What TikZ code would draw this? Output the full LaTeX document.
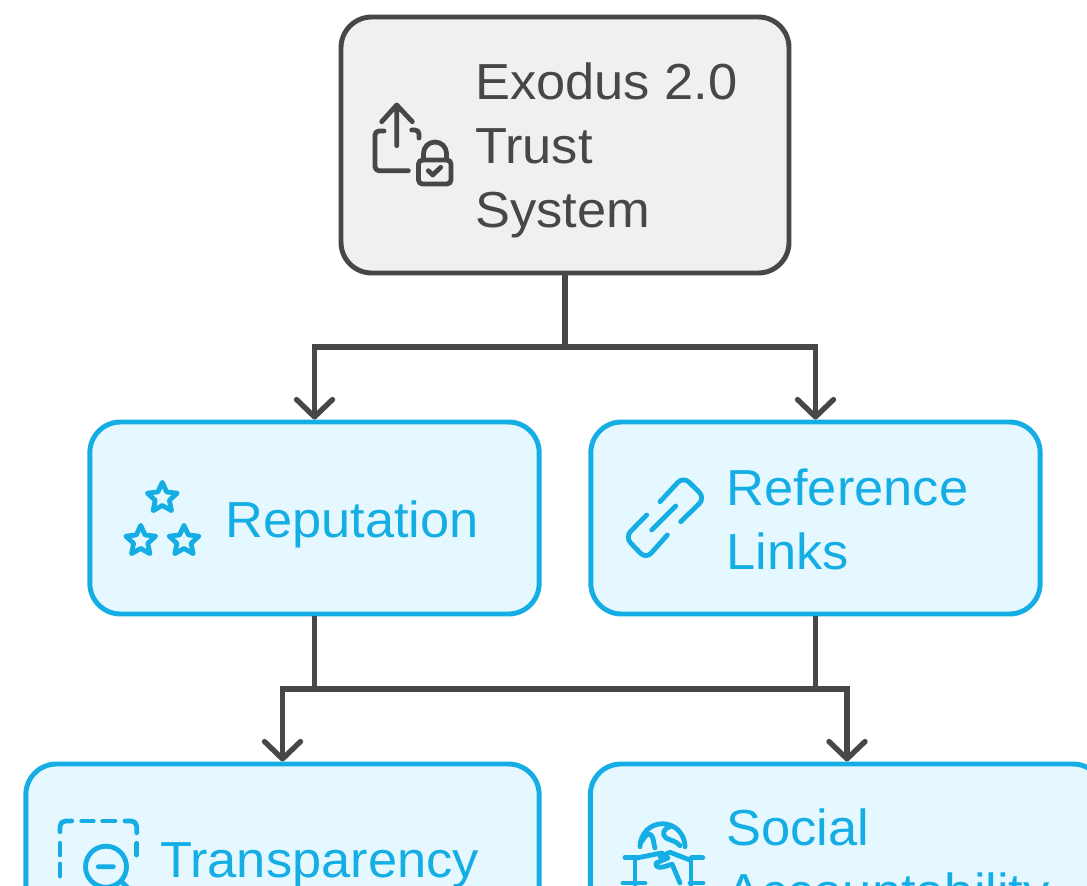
\documentclass[tikz,border=0pt]{standalone}
\usepackage{fontspec}
\setmainfont[FakeStretch=1.035]{Liberation Sans}
\usetikzlibrary{arrows.meta,shapes.geometric}
\definecolor{inkgrey}{HTML}{474747}
\definecolor{paneblue}{HTML}{E5F8FF}
\definecolor{panegrey}{HTML}{F0F0F0}
\definecolor{skyblue}{HTML}{14AEE5}
\tikzset{
  greybox/.style={draw=inkgrey,fill=panegrey,line width=3.7pt,rounded corners=23pt,inner sep=0pt},
  bluebox/.style={draw=skyblue,fill=paneblue,line width=3.7pt,rounded corners=23pt,inner sep=0pt},
  flow/.style={draw=inkgrey,line width=4pt},
  flowtip/.style={flow,-{Straight Barb[length=13pt,width=27pt,round]}},
  greytext/.style={text=inkgrey,font=\fontsize{38}{48}\selectfont,anchor=west,align=left,inner sep=0pt},
  bluetext/.style={greytext,text=skyblue},
  greyicon/.style={draw=inkgrey,line width=3.6pt,line cap=round,line join=round},
  blueicon/.style={draw=skyblue,line width=3.6pt,line cap=round,line join=round},
  staricon/.style={blueicon,star,star points=5,star point ratio=2.1,minimum size=23.5pt,inner sep=0pt}
}
\begin{document}
\begin{tikzpicture}[x=0.75pt,y=-0.75pt]
  \useasboundingbox (0,0) rectangle (1087,885);
  \clip (0,0) rectangle (1087,885);
  \fill[white] (0,0) rectangle (1087,885);

  % boxes
  \node[greybox,minimum width=336pt,minimum height=192pt] (trust) at (565,145) {};
  \node[bluebox,minimum width=337pt,minimum height=144pt] (reputation) at (314.5,518) {};
  \node[bluebox,minimum width=337pt,minimum height=144pt] (reference) at (815.5,518) {};
  \node[bluebox,minimum width=385pt,minimum height=144pt] (transparency) at (282.5,860) {};
  \node[bluebox,minimum width=385pt,minimum height=144pt] (social) at (847,860) {};

  % labels
  \node[greytext] (trustlabel) at (475,150) {Exodus 2.0\\Trust\\System};
  \node[bluetext] (reputationlabel) at (225,524) {Reputation};
  \node[bluetext] (referencelabel) at (726,519) {Reference\\Links};
  \node[bluetext] (transparencylabel) at (160,865) {Transparency};
  \node[bluetext] (sociallabel) at (726,864) {Social\\Accountability};

  % connectors
  \coordinate (upperbus) at (565,347);
  \coordinate (lowerbus) at (565,689);
  \draw[flow] (trust.south) -- (upperbus);
  \draw[flowtip] (upperbus) -| (reputation.north);
  \draw[flowtip] (upperbus) -| (reference.north);
  \draw[flow] (reputation.south) -- (reputation.south |- lowerbus);
  \draw[flow] (reference.south) -- (reference.south |- lowerbus);
  \draw[flowtip] (lowerbus) -| (transparency.north);
  \draw[flowtip] (lowerbus) -| (social.north);

  % upload and lock
  \draw[greyicon] (381.7,121.7) -- (396.7,105) -- (412.3,121.7) (396.7,105) -- (396.7,145.7);
  \draw[greyicon,rounded corners=3pt] (384,131) -- (375,131) -- (375,170.7) -- (408.3,170.7);
  \draw[greyicon,rounded corners=3pt] (411.7,130) -- (419,130) -- (419,138);
  \draw[greyicon,rounded corners=3pt] (418.5,160) rectangle (451,184);
  \draw[greyicon] (423.5,160) -- (423.5,153.5) arc(180:360:11.5) -- (446.5,160);
  \draw[greyicon] (428.3,170.7) -- (432.7,175) -- (440.7,167.3);

  % stars
  \node[staricon] (topstar) at (162.3,498) {};
  \node[staricon] (leftstar) at (140.7,541) {};
  \node[staricon] (rightstar) at (184,541) {};

  % chain link
  \draw[blueicon,rounded corners=6pt] (660,501.7) -- (683.3,476.5) -- (705,498) -- (680.7,521.7);
  \draw[blueicon,rounded corners=6pt] (646.7,515) -- (625,537) -- (646,559) -- (667.3,535);
  \draw[blueicon] (675.7,506) -- (651.7,530);

  % dashed frame and lens
  \draw[blueicon,rounded corners=4pt] (60,831.7) -- (60,821) -- (71.7,821);
  \draw[blueicon] (81.7,821) -- (93.3,821) (102.7,821) -- (115,821);
  \draw[blueicon,rounded corners=4pt] (125,821) -- (136.7,821) -- (136.7,832.7);
  \draw[blueicon] (136.7,843.3) -- (136.7,855) (60,843.3) -- (60,855) (60,864) -- (60,876);
  \draw[blueicon] (106,866.7) circle[radius=20.5] (98.3,866.7) -- (113.3,866.7) (121,881) -- (135,895);

  % globe and handshake
  \draw[blueicon] (640,846.7) arc(180:360:22.5 and 23);
  \draw[blueicon] (641.7,841.7) .. controls (645,836) and (648,832) .. (651,835) .. controls (654,838) and (653,842) .. (655,848);
  \draw[blueicon] (670,826.7) .. controls (664,828) and (661,834) .. (666,838) .. controls (672,841) and (676,841) .. (680,845.7);
  \draw[blueicon] (625,857.7) -- (636.7,857.7) (691.7,857.7) -- (702.7,857.7);
  \draw[blueicon] (636.7,858) -- (655,854.3) -- (662,853);
  \draw[blueicon] (660,856.7) -- (670,852.3) -- (690,860);
  \draw[blueicon] (635,858) -- (635,885) (691,858) -- (691,885);
  \draw[blueicon] (668,858) -- (656,863) .. controls (655,868) and (660,869) .. (672,864) -- (680,883);
  \draw[blueicon] (623,883) -- (645,883) (690,883) -- (703,883);
\end{tikzpicture}
\end{document}
